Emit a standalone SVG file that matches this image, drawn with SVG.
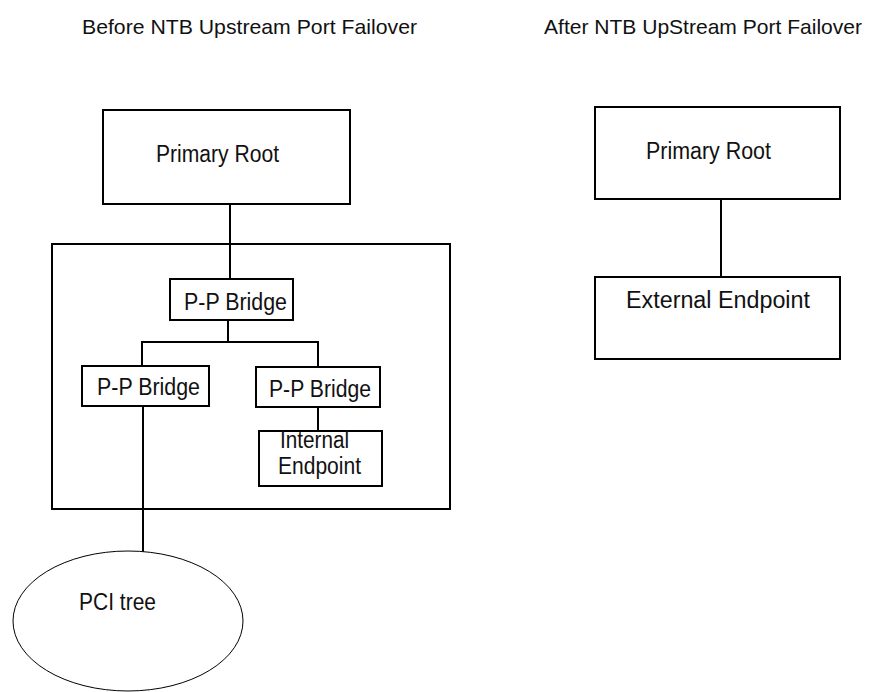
<svg xmlns="http://www.w3.org/2000/svg" width="870" height="692" viewBox="0 0 870 692">
<style>
.box{fill:#fff;stroke:#000;stroke-width:2}
.frame{fill:none;stroke:#000;stroke-width:2}
.ell{fill:#fff;stroke:#000;stroke-width:1}
.ln{stroke:#000;stroke-width:2;fill:none}
text{font-family:"Liberation Sans",Arial,sans-serif;font-size:23px;fill:#111}
.title{font-size:21px}
</style>
<rect width="870" height="692" fill="#fff"/>
<text class="title" x="82" y="34" textLength="335" lengthAdjust="spacingAndGlyphs">Before NTB Upstream Port Failover</text>
<text class="title" x="544" y="34" textLength="318" lengthAdjust="spacingAndGlyphs">After NTB UpStream Port Failover</text>
<g id="switch"><rect class="frame" x="52" y="244" width="398" height="265"/></g>
<g id="connectors">
<line class="ln" x1="230" y1="204" x2="230" y2="279"/>
<polyline class="ln" points="228,320 228,342 142,342 142,366"/>
<polyline class="ln" points="228,342 318,342 318,367"/>
<line class="ln" x1="318" y1="407" x2="318" y2="431"/>
<line class="ln" x1="143" y1="406" x2="143" y2="552"/>
<line class="ln" x1="721" y1="199" x2="721" y2="277"/>
</g>
<g id="primary-root-before"><rect class="box" x="103" y="110" width="247" height="94"/><text x="156" y="162" textLength="123" lengthAdjust="spacingAndGlyphs">Primary Root</text></g>
<g id="bridge-top"><rect class="box" x="170" y="279" width="123" height="41"/><text x="184" y="310" textLength="103" lengthAdjust="spacingAndGlyphs">P-P Bridge</text></g>
<g id="bridge-left"><rect class="box" x="82" y="366" width="127" height="40"/><text x="97" y="395" textLength="103" lengthAdjust="spacingAndGlyphs">P-P Bridge</text></g>
<g id="bridge-right"><rect class="box" x="256" y="367" width="124" height="40"/><text x="269" y="397" textLength="102" lengthAdjust="spacingAndGlyphs">P-P Bridge</text></g>
<g id="internal-endpoint"><rect class="box" x="259" y="431" width="123" height="55"/><text x="280" y="448" textLength="69" lengthAdjust="spacingAndGlyphs">Internal</text><text x="278" y="474" textLength="83" lengthAdjust="spacingAndGlyphs">Endpoint</text></g>
<g id="pci-tree"><ellipse class="ell" cx="128" cy="621" rx="115" ry="70"/><text x="79" y="610" textLength="77" lengthAdjust="spacingAndGlyphs">PCI tree</text></g>
<g id="primary-root-after"><rect class="box" x="595" y="107" width="245" height="92"/><text x="646" y="159" textLength="125" lengthAdjust="spacingAndGlyphs">Primary Root</text></g>
<g id="external-endpoint"><rect class="box" x="595" y="277" width="245" height="82"/><text x="626" y="308" textLength="184" lengthAdjust="spacingAndGlyphs">External Endpoint</text></g>
</svg>
